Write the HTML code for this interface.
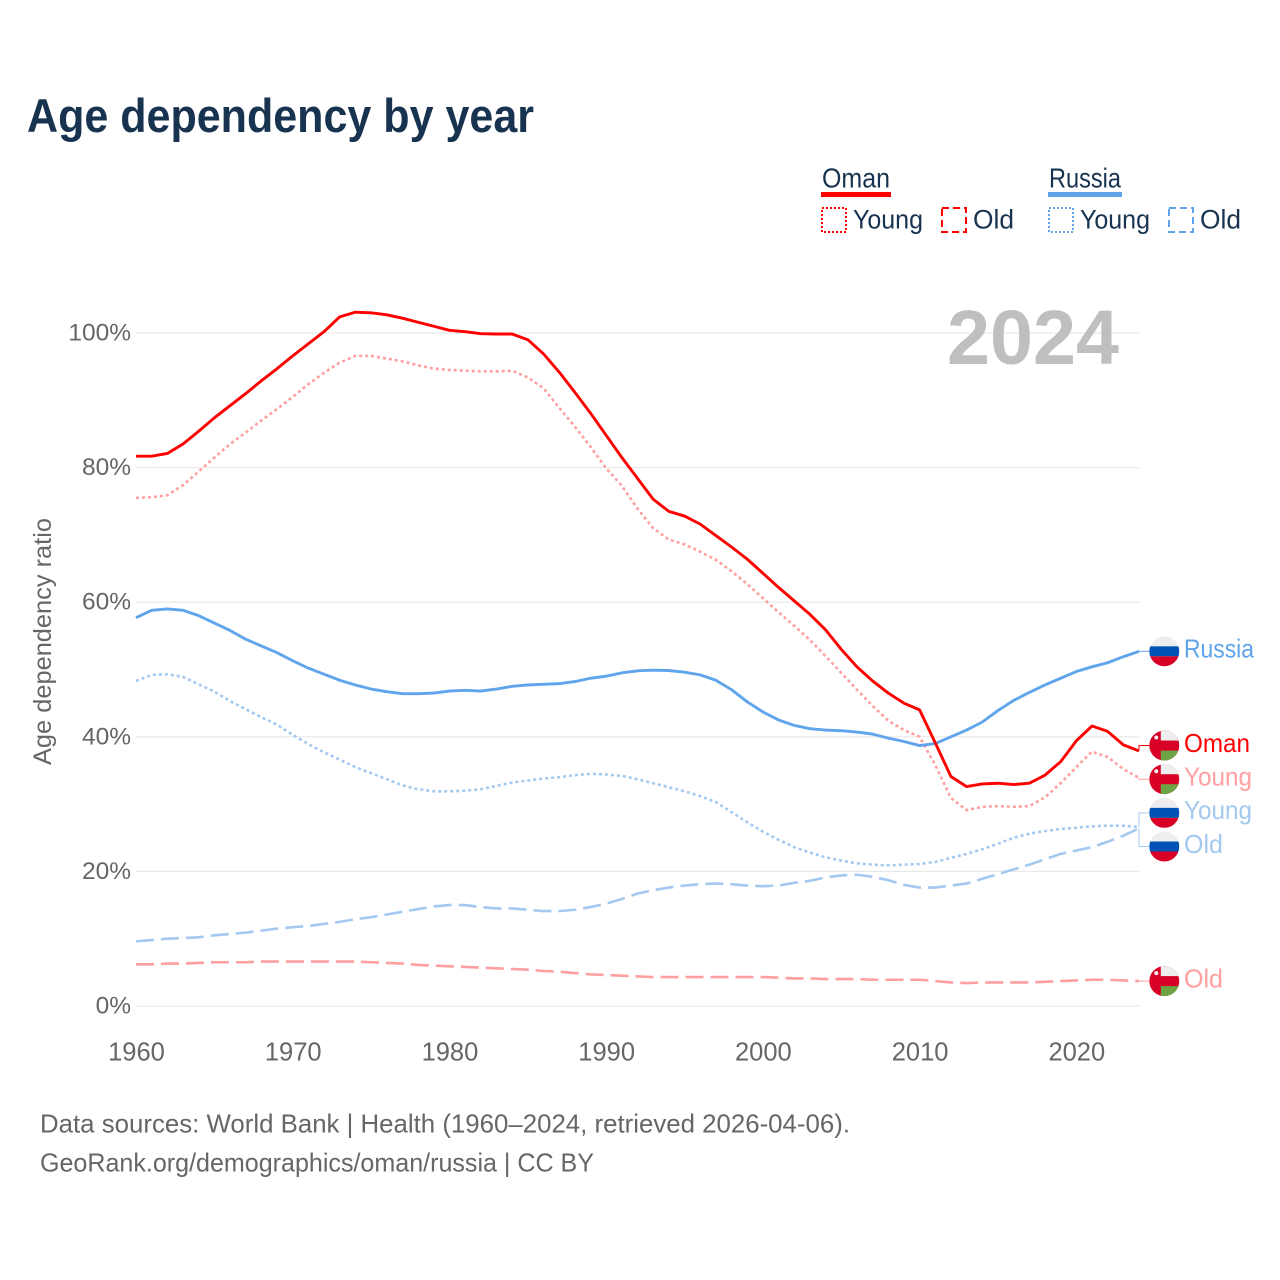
<!DOCTYPE html>
<html lang="en">
<head>
<meta charset="utf-8">
<title>Age dependency by year</title>
<style>
html,body{margin:0;padding:0;background:#fff;}
svg{display:block;font-family:"Liberation Sans",sans-serif;}
</style>
</head>
<body>
<svg id="chart" xmlns="http://www.w3.org/2000/svg" width="1280" height="1280" viewBox="0 0 1280 1280">
  <rect x="0" y="0" width="1280" height="1280" fill="#ffffff"/>
  <text x="27" y="132" font-size="47" font-weight="700" fill="#173350" textLength="507" lengthAdjust="spacingAndGlyphs">Age dependency by year</text>

  <g font-size="26.5" fill="#173350">
    <text x="822" y="187.5" font-size="28" textLength="68" lengthAdjust="spacingAndGlyphs">Oman</text>
    <rect x="821" y="192" width="70" height="5" fill="#ff0000"/>
    <rect x="822" y="208" width="24" height="24" fill="none" stroke="#ff0000" stroke-width="2" stroke-dasharray="2 2"/>
    <text x="853" y="228.5" textLength="70" lengthAdjust="spacingAndGlyphs">Young</text>
    <rect x="942" y="208" width="24" height="24" fill="none" stroke="#ff0000" stroke-width="2" stroke-dasharray="7 4"/>
    <text x="973" y="228.5" textLength="41" lengthAdjust="spacingAndGlyphs">Old</text>
    <text x="1049" y="187.5" font-size="28" textLength="72" lengthAdjust="spacingAndGlyphs">Russia</text>
    <rect x="1048" y="192" width="74" height="5" fill="#60a5ec"/>
    <rect x="1049" y="208" width="24" height="24" fill="none" stroke="#60a5ec" stroke-width="2" stroke-dasharray="2 2"/>
    <text x="1080" y="228.5" textLength="70" lengthAdjust="spacingAndGlyphs">Young</text>
    <rect x="1169" y="208" width="24" height="24" fill="none" stroke="#60a5ec" stroke-width="2" stroke-dasharray="7 4"/>
    <text x="1200" y="228.5" textLength="41" lengthAdjust="spacingAndGlyphs">Old</text>
  </g>

  <g id="grid"></g>
  <text x="947" y="364" font-size="77" font-weight="700" fill="#bfbfbf" textLength="172" lengthAdjust="spacingAndGlyphs">2024</text>
  <text transform="translate(51,765) rotate(-90)" x="0" y="0" font-size="25" fill="#666666" textLength="247" lengthAdjust="spacingAndGlyphs">Age dependency ratio</text>
  <g id="yticks"></g>
  <g id="xticks"></g>
  <g id="lines"></g>
  <g id="ends"></g>

  <text x="40" y="1132.5" font-size="26" fill="#666666" textLength="810" lengthAdjust="spacingAndGlyphs">Data sources: World Bank | Health (1960–2024, retrieved 2026-04-06).</text>
  <text x="40" y="1171.5" font-size="26" fill="#666666" textLength="554" lengthAdjust="spacingAndGlyphs">GeoRank.org/demographics/oman/russia | CC BY</text>
</svg>

<script>
const years = [
  1960,1961,1962,1963,1964,1965,1966,1967,1968,1969,
  1970,1971,1972,1973,1974,1975,1976,1977,1978,1979,
  1980,1981,1982,1983,1984,1985,1986,1987,1988,1989,
  1990,1991,1992,1993,1994,1995,1996,1997,1998,1999,
  2000,2001,2002,2003,2004,2005,2006,2007,2008,2009,
  2010,2011,2012,2013,2014,2015,2016,2017,2018,2019,
  2020,2021,2022,2023,2024];
const xTickYears = [1960,1970,1980,1990,2000,2010,2020];
const yTickValues = [0,20,40,60,80,100];

const omanTotal = [
  81.7,81.7,82.1,83.5,85.4,87.4,89.2,91,92.9,94.7,
  96.6,98.4,100.2,102.4,103.1,103,102.7,102.2,101.6,101,
  100.4,100.2,99.9,99.85,99.85,99,96.9,94.2,91.2,88.1,
  84.8,81.5,78.4,75.3,73.5,72.8,71.6,69.9,68.2,66.4,
  64.3,62.2,60.2,58.2,55.9,53,50.4,48.3,46.5,45,
  44,39.1,34.1,32.6,33,33.1,32.9,33.1,34.3,36.3,
  39.4,41.6,40.8,38.8,37.9];
const omanYoung = [
  75.5,75.6,75.9,77.4,79.4,81.5,83.5,85.2,87,88.7,
  90.5,92.4,94.1,95.6,96.6,96.6,96.2,95.8,95.2,94.7,
  94.5,94.4,94.3,94.3,94.4,93.4,91.8,88.9,86.1,83.1,
  79.9,77.3,73.9,71,69.3,68.6,67.5,66.3,64.6,62.7,
  60.6,58.5,56.5,54.4,52,49.5,47,44.6,42.4,41,
  40,35.8,30.9,29.1,29.6,29.7,29.6,29.7,31,33.1,
  35.5,37.8,37,35.2,33.9];
const omanOld = [
  6.2,6.2,6.3,6.3,6.4,6.5,6.5,6.5,6.6,6.6,
  6.6,6.6,6.6,6.6,6.6,6.5,6.4,6.3,6.1,6.0,
  5.9,5.8,5.7,5.6,5.5,5.4,5.2,5.1,4.9,4.7,
  4.6,4.5,4.4,4.3,4.3,4.3,4.3,4.3,4.3,4.3,
  4.3,4.2,4.1,4.1,4.0,4.0,4.0,3.9,3.9,3.9,
  3.9,3.7,3.5,3.4,3.5,3.5,3.5,3.5,3.6,3.7,
  3.8,3.9,3.9,3.8,3.7];
const russiaTotal = [
  57.7,58.8,59,58.8,58,56.9,55.8,54.5,53.5,52.5,
  51.3,50.2,49.3,48.4,47.7,47.1,46.7,46.4,46.4,46.5,
  46.8,46.9,46.8,47.1,47.5,47.7,47.8,47.9,48.2,48.7,
  49,49.5,49.8,49.9,49.85,49.6,49.2,48.4,47,45.2,
  43.7,42.5,41.7,41.2,41,40.9,40.7,40.4,39.8,39.3,
  38.7,39,40,41,42.2,43.9,45.4,46.6,47.7,48.7,
  49.7,50.4,51,51.9,52.7];
const russiaYoung = [
  48.3,49.2,49.3,48.9,47.8,46.7,45.3,44.1,42.9,41.8,
  40.3,38.9,37.7,36.6,35.5,34.6,33.7,32.8,32.2,31.9,
  31.9,32,32.2,32.7,33.2,33.5,33.8,34,34.3,34.5,
  34.4,34.2,33.7,33.1,32.5,31.9,31.2,30.3,28.8,27.3,
  25.9,24.7,23.6,22.8,22.1,21.6,21.2,21,20.9,21,
  21.1,21.4,22,22.6,23.3,24.1,25,25.6,26,26.3,
  26.5,26.7,26.8,26.8,26.6];
const russiaOld = [
  9.6,9.8,10,10.1,10.2,10.5,10.7,10.9,11.2,11.5,
  11.7,11.9,12.2,12.5,12.9,13.2,13.6,14,14.4,14.8,
  15,15,14.7,14.5,14.5,14.3,14.1,14.1,14.3,14.7,
  15.2,15.9,16.7,17.2,17.6,17.9,18.1,18.2,18.1,17.9,
  17.8,17.9,18.3,18.6,19.1,19.4,19.5,19.2,18.7,18,
  17.6,17.6,17.9,18.2,18.9,19.6,20.3,21,21.8,22.6,
  23.1,23.6,24.4,25.3,26.4];

const NS = 'http://www.w3.org/2000/svg';
const xAxis = v => 136 + (v - 1960) * (1139 - 136) / 64;
const yAxis = v => 1006 - v * 6.73;

function make(tag, attrs, parent, text) {
  const el = document.createElementNS(NS, tag);
  for (const k in attrs) el.setAttribute(k, attrs[k]);
  if (text !== undefined) el.textContent = text;
  parent.appendChild(el);
  return el;
}

const gridG = document.getElementById('grid');
const yG = document.getElementById('yticks');
const xG = document.getElementById('xticks');
const linesG = document.getElementById('lines');
const endsG = document.getElementById('ends');

yTickValues.forEach(v => {
  const line = make('line', {x1: 136, x2: 1139, y1: yAxis(v), y2: yAxis(v), stroke: '#e9e9e9', 'stroke-width': 1.2}, gridG);
  
  
  const t = make('text', {x: 131, y: yAxis(v) + 7.5, 'text-anchor': 'end', 'font-size': 24.5, fill: '#666666'}, yG, v + '%');
  
  
});

xTickYears.forEach(v => {
  const t = make('text', {x: xAxis(v) + 0.5, y: 1060.5, 'text-anchor': 'middle', 'font-size': 25.5, fill: '#666666'}, xG, String(v));
  
  
});

const series = [
  {key: 'russia-old', values: russiaOld, color: '#a3c9f1', dash: '18 7', label: 'Old', width: 39, flag: 'russia'},
  {key: 'russia-young', values: russiaYoung, color: '#a3c9f1', dash: '3 3', label: 'Young', width: 68, flag: 'russia'},
  {key: 'oman-old', values: omanOld, color: '#ff9f9f', dash: '18 7', label: 'Old', width: 39, flag: 'oman'},
  {key: 'oman-young', values: omanYoung, color: '#ff9f9f', dash: '3 3', label: 'Young', width: 68, flag: 'oman'},
  {key: 'russia-total', values: russiaTotal, color: '#60a5ec', dash: null, label: 'Russia', width: 70, flag: 'russia'},
  {key: 'oman-total', values: omanTotal, color: '#ff0000', dash: null, label: 'Oman', width: 66, flag: 'oman'}
];

series.forEach(s => {
  const d = s.values.map((v, i) => (i ? 'L' : 'M') + xAxis(years[i]).toFixed(2) + ' ' + yAxis(v).toFixed(2)).join(' ');
  const attrs = {d: d, fill: 'none', stroke: s.color, 'stroke-width': s.dash ? 2.6 : 2.9, 'stroke-linejoin': 'round'};
  if (s.dash) attrs['stroke-dasharray'] = s.dash;
  const path = make('path', attrs, linesG);
  
  
});

/* End labels: spread overlapping labels around the mean of their cluster */
const GAP = 33.65;
const sorted = series.map(s => ({s: s, y0: yAxis(s.values[s.values.length - 1])})).sort((a, b) => a.y0 - b.y0);
let clusters = sorted.map(e => ({items: [e]}));
const clusterTop = c => c.items.reduce((a, e) => a + e.y0, 0) / c.items.length - (c.items.length - 1) * GAP / 2;
let merged = true;
while (merged) {
  merged = false;
  for (let i = 0; i < clusters.length - 1; i++) {
    const a = clusters[i], b = clusters[i + 1];
    if (clusterTop(a) + (a.items.length - 1) * GAP + GAP > clusterTop(b)) {
      clusters.splice(i, 2, {items: a.items.concat(b.items)});
      merged = true;
      break;
    }
  }
}
clusters.forEach(c => {
  const top = clusterTop(c);
  c.items.forEach((e, i) => { e.y = top + i * GAP; });
});

const defs = make('defs', {}, endsG);
const FLAG_X = 1164.3;
const FLAG_R = 15;

sorted.forEach((e, idx) => {
  const s = e.s;
  const leader = make('path', {d: 'M1139 ' + e.y0.toFixed(2) + ' V' + e.y.toFixed(2) + ' H1150', fill: 'none', stroke: s.color, 'stroke-width': 1}, endsG);
  
  

  const clipId = 'flag-clip-' + idx;
  const clip = make('clipPath', {id: clipId}, defs);
  make('circle', {cx: FLAG_X, cy: e.y, r: FLAG_R}, clip);
  const g = make('g', {'clip-path': 'url(#' + clipId + ')'}, endsG);
  
  
  const L = FLAG_X - FLAG_R, T = e.y - FLAG_R, W = FLAG_R * 2, B = W / 3;
  if (s.flag === 'russia') {
    make('rect', {x: L, y: T, width: W, height: B, fill: '#eeeeee'}, g);
    make('rect', {x: L, y: T + B, width: W, height: B, fill: '#0052b4'}, g);
    make('rect', {x: L, y: T + 2 * B, width: W, height: B, fill: '#d80027'}, g);
  } else {
    make('rect', {x: L, y: T, width: W, height: W, fill: '#d80027'}, g);
    make('rect', {x: L + 11.5, y: T, width: W - 11.5, height: B, fill: '#eeeeee'}, g);
    make('rect', {x: L + 11.5, y: T + 2 * B, width: W - 11.5, height: B, fill: '#6da544'}, g);
    make('circle', {cx: L + 7, cy: T + 7, r: 2, fill: '#f4f4f4'}, g);
  }

  const t = make('text', {x: 1184, y: e.y + 6.3, 'font-size': 26, fill: s.color, textLength: s.width, lengthAdjust: 'spacingAndGlyphs'}, endsG, s.label);
  
  
});
</script>
</body>
</html>
